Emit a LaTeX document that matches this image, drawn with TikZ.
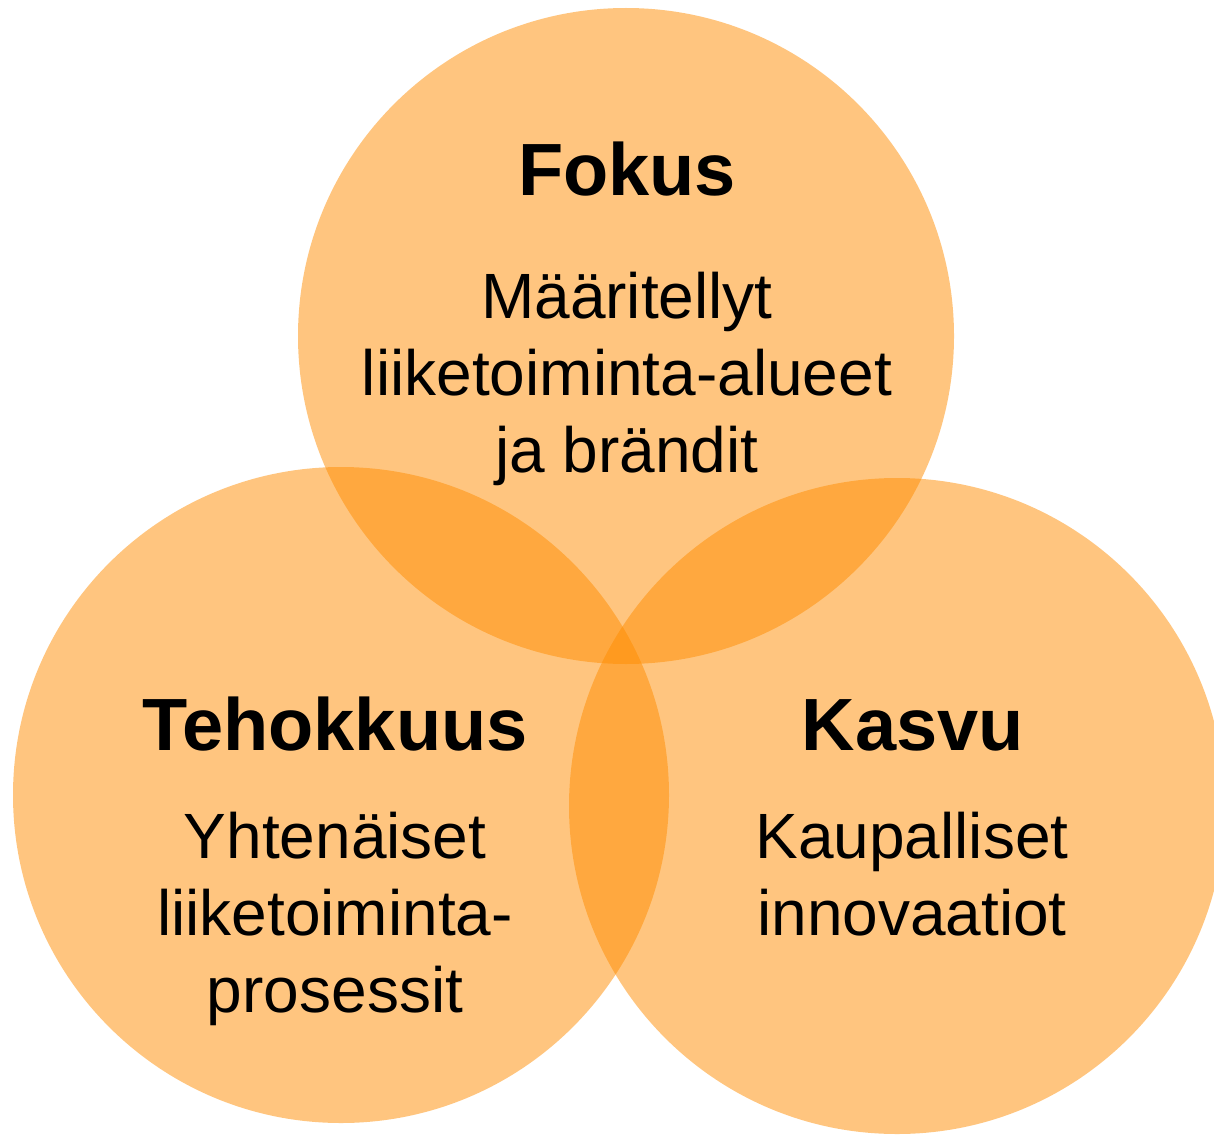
\documentclass[tikz,border=0pt]{standalone}
\usepackage{fontspec}
\setmainfont{Liberation Sans}
\definecolor{vennorange}{RGB}{255,140,0}
\begin{document}
\begin{tikzpicture}[x=1pt,y=-1pt,
  venn/.style={circle, fill=vennorange, fill opacity=0.5, draw=none, minimum size=656pt, inner sep=0pt},
  title/.style={font=\fontsize{74}{88}\selectfont\bfseries, inner sep=0pt, anchor=base},
  body/.style={font=\fontsize{64}{77}\selectfont, align=center, inner sep=0pt, anchor=north}]
\useasboundingbox (0,0) rectangle (1214,1134);
\clip (0,0) rectangle (1214,1134);
\node[venn] (cfokus) at (626,336) {};
\node[venn] (cteho) at (341,795) {};
\node[venn] (ckasvu) at (897,806) {};
\node[title] (tfokus) at (627,195) {Fokus};
\node[body] (bfokus) at (627,272) {Määritellyt\\liiketoiminta-alueet\\ja brändit};
\node[title] (tteho) at (335,750) {Tehokkuus};
\node[body] (bteho) at (335,812) {Yhtenäiset\\liiketoiminta-\\prosessit};
\node[title] (tkasvu) at (913,750) {Kasvu};
\node[body] (bkasvu) at (912,812) {Kaupalliset\\innovaatiot};
\end{tikzpicture}
\end{document}
